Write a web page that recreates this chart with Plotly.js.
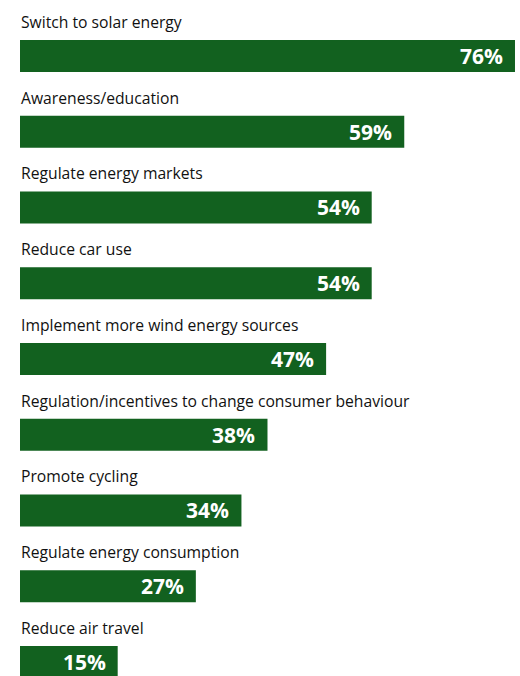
<!DOCTYPE html>
<html><head><meta charset="utf-8">
<script src="https://cdn.plot.ly/plotly-3.0.1.min.js"></script>
<style>html,body{margin:0;padding:0;background:#fff}#chart{width:520px;height:676px}</style>
</head><body><div id="chart"></div>
<script>
const categories = [
  "Switch to solar energy",
  "Awareness/education",
  "Regulate energy markets",
  "Reduce car use",
  "Implement more wind energy sources",
  "Regulation/incentives to change consumer behaviour",
  "Promote cycling",
  "Regulate energy consumption",
  "Reduce air travel"
];
const values = [76, 59, 54, 54, 47, 38, 34, 27, 15];
const valueLabels = values.map(v => v + "%");

const green = "#12611f";
const idx = categories.map((c, i) => i);

const trace = {
  type: "bar",
  orientation: "h",
  x: values,
  y: idx,
  width: 0.42,
  marker: {color: green},
  hoverinfo: "skip"
};

const annotations = [];
categories.forEach((c, i) => {
  annotations.push({
    x: 0, y: i, xref: "x", yref: "y",
    text: c, showarrow: false, xanchor: "left", yanchor: "middle",
    yshift: 34, xshift: -1,
    font: {family: "Open Sans, sans-serif", size: 15.7, color: "#111"}
  });
  annotations.push({
    x: values[i], y: i, xref: "x", yref: "y",
    text: "<b>" + valueLabels[i] + "</b>", showarrow: false, xanchor: "right", yanchor: "middle",
    xshift: -11, yshift: 0, borderpad: 0,
    font: {family: "Open Sans, sans-serif", size: 21, color: "#ffffff"}
  });
});

const layout = {
  width: 520, height: 676,
  margin: {l: 20, r: 0, t: 0, b: 0},
  paper_bgcolor: "#ffffff", plot_bgcolor: "#ffffff",
  showlegend: false,
  xaxis: {range: [0, 76.77], visible: false, fixedrange: true},
  yaxis: {range: [8.185, -0.739], visible: false, fixedrange: true},
  annotations: annotations
};

Plotly.newPlot("chart", [trace], layout, {displayModeBar: false, staticPlot: true});
</script>
</body></html>
